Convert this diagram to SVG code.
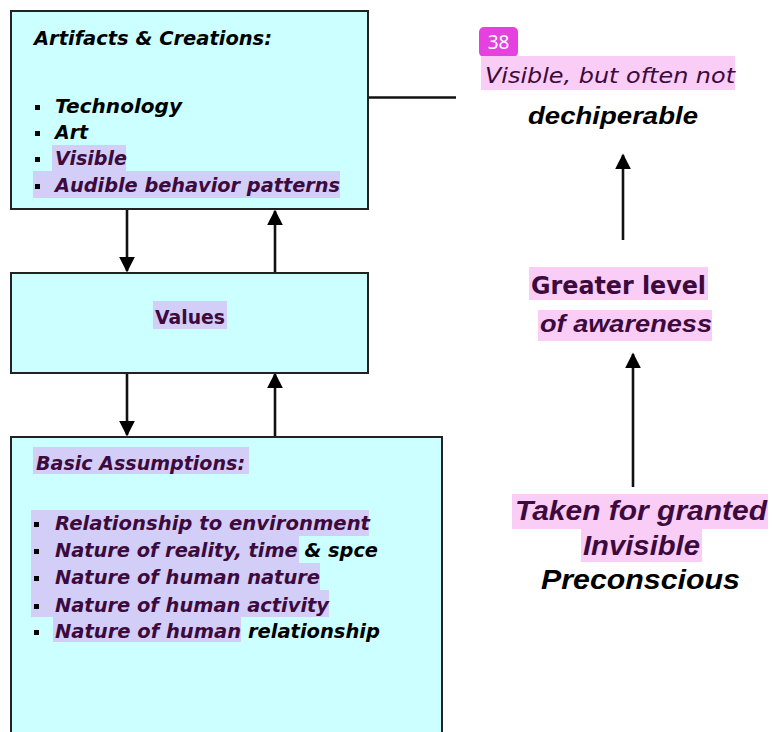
<svg xmlns="http://www.w3.org/2000/svg" width="772" height="732" viewBox="0 0 772 732">
<defs>
<style>
.box{fill:#ccffff;stroke:#222;stroke-width:2}
.conn{stroke:#111;stroke-width:2.6;fill:none}
.hl1{fill:#d3cef7}
.hl2{fill:#f9cdf5}
.t{font-family:"DejaVu Sans",Verdana,sans-serif;font-weight:bold;font-style:italic;font-size:20px;fill:#000}
.p{fill:#3d0a3d}
.a{font-family:"Liberation Sans",Arial,sans-serif;font-weight:bold;font-style:italic;fill:#000}
.b{fill:#000}
</style>
<marker id="ah" viewBox="0 0 10 10" refX="9" refY="5" markerWidth="6.5" markerHeight="6" orient="auto" markerUnits="strokeWidth">
<path d="M0,0 L10,5 L0,10 Z" fill="#000"/>
</marker>
</defs>
<rect width="772" height="732" fill="#fff"/>

<g id="connectors">
<line class="conn" x1="368" y1="97.5" x2="456" y2="97.5"/>
<line class="conn" x1="127" y1="209" x2="127" y2="271" marker-end="url(#ah)"/>
<line class="conn" x1="275" y1="273" x2="275" y2="211" marker-end="url(#ah)"/>
<line class="conn" x1="127" y1="373" x2="127" y2="435" marker-end="url(#ah)"/>
<line class="conn" x1="275" y1="437" x2="275" y2="374" marker-end="url(#ah)"/>
<line class="conn" x1="623" y1="240" x2="623" y2="155" marker-end="url(#ah)"/>
<line class="conn" x1="633" y1="487" x2="633" y2="354" marker-end="url(#ah)"/>
</g>

<g id="artifacts">
<rect class="box" x="11" y="11" width="357" height="198"/>
<text class="t" x="34" y="45" textLength="238" lengthAdjust="spacingAndGlyphs">Artifacts &amp; Creations:</text>
<rect class="b" x="35" y="105" width="5" height="5"/>
<text class="t" x="55" y="113" textLength="127" lengthAdjust="spacingAndGlyphs">Technology</text>
<rect class="b" x="35" y="131" width="5" height="5"/>
<text class="t" x="55" y="139" textLength="33" lengthAdjust="spacingAndGlyphs">Art</text>
<rect class="hl1" x="52" y="145" width="74" height="26"/>
<rect class="b" x="35" y="157" width="5" height="5"/>
<text class="t p" x="55" y="165" textLength="72" lengthAdjust="spacingAndGlyphs">Visible</text>
<rect class="hl1" x="33" y="171" width="307" height="27"/>
<rect class="b p" x="35" y="184" width="5" height="5"/>
<text class="t p" x="55" y="192" textLength="285" lengthAdjust="spacingAndGlyphs">Audible behavior patterns</text>
</g>

<g id="values">
<rect class="box" x="11" y="273" width="357" height="100"/>
<rect class="hl1" x="153" y="301" width="74" height="28"/>
<text x="155" y="324" textLength="70" lengthAdjust="spacingAndGlyphs" style="font-family:'DejaVu Sans',Verdana,sans-serif;font-weight:bold;font-size:20px;fill:#3d0a3d">Values</text>
</g>

<g id="assumptions">
<rect class="box" x="11" y="437" width="431" height="310"/>
<rect class="hl1" x="33" y="447" width="216" height="27"/>
<text class="t p" x="36" y="470" textLength="209" lengthAdjust="spacingAndGlyphs">Basic Assumptions:</text>
<rect class="hl1" x="31" y="510" width="338" height="26"/>
<rect class="hl1" x="31" y="536" width="268" height="27"/>
<rect class="hl1" x="31" y="563" width="289" height="27"/>
<rect class="hl1" x="31" y="590" width="298" height="27"/>
<rect class="hl1" x="53" y="617" width="188" height="25"/>
<rect class="b p" x="34" y="522" width="5" height="5"/>
<text class="t p" x="55" y="530" textLength="315" lengthAdjust="spacingAndGlyphs">Relationship to environment</text>
<rect class="b p" x="34" y="549" width="5" height="5"/>
<text class="t" x="55" y="557" textLength="323" lengthAdjust="spacingAndGlyphs"><tspan class="p">Nature of reality, time</tspan> &amp; spce</text>
<rect class="b p" x="34" y="576" width="5" height="5"/>
<text class="t p" x="55" y="584" textLength="265" lengthAdjust="spacingAndGlyphs">Nature of human nature</text>
<rect class="b p" x="34" y="604" width="5" height="5"/>
<text class="t p" x="55" y="612" textLength="274" lengthAdjust="spacingAndGlyphs">Nature of human activity</text>
<rect class="b" x="34" y="630" width="5" height="5"/>
<text class="t" x="55" y="638" textLength="325" lengthAdjust="spacingAndGlyphs"><tspan class="p">Nature of human</tspan> relationship</text>
</g>

<g id="badge">
<rect x="479" y="27" width="39" height="30" rx="5" fill="#e640df"/>
<text x="498.5" y="49" text-anchor="middle" style="font-family:'Noto Sans','Open Sans',sans-serif;font-size:19px;fill:#fff">38</text>
</g>

<g id="visible-label">
<rect class="hl2" x="481" y="56" width="254" height="34"/>
<text x="485" y="83" textLength="250" lengthAdjust="spacingAndGlyphs" style="font-family:'DejaVu Sans',Verdana,sans-serif;font-style:italic;font-size:21px;fill:#3d0a3d">Visible, but often not</text>
<text class="a" x="528" y="124" font-size="23" textLength="170" lengthAdjust="spacingAndGlyphs">dechiperable</text>
</g>

<g id="awareness-label">
<rect class="hl2" x="529" y="267" width="179" height="33"/>
<text x="531" y="294" textLength="175" lengthAdjust="spacingAndGlyphs" style="font-family:'DejaVu Sans',Verdana,sans-serif;font-weight:bold;font-size:24px;fill:#3d0a3d">Greater level</text>
<rect class="hl2" x="538" y="310" width="174" height="31"/>
<text class="a" x="540" y="332" font-size="24" textLength="172" lengthAdjust="spacingAndGlyphs" style="fill:#3d0a3d">of awareness</text>
</g>

<g id="taken-label">
<rect class="hl2" x="512" y="494" width="256" height="35"/>
<text class="a" x="515" y="520" font-size="28" textLength="252" lengthAdjust="spacingAndGlyphs" style="fill:#3d0a3d">Taken for granted</text>
<rect class="hl2" x="581" y="529" width="121" height="33"/>
<text class="a" x="583" y="555" font-size="28" textLength="117" lengthAdjust="spacingAndGlyphs" style="fill:#3d0a3d">Invisible</text>
<text class="a" x="541" y="589" font-size="28" textLength="199" lengthAdjust="spacingAndGlyphs">Preconscious</text>
</g>
</svg>
